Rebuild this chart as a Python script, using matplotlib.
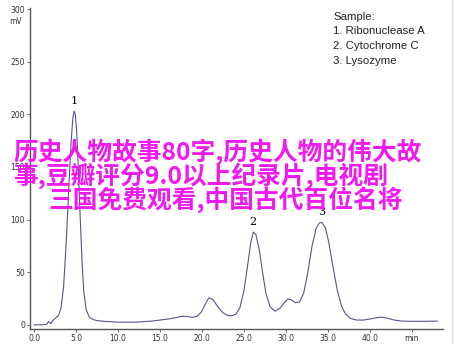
import matplotlib

matplotlib.use("Agg")
import matplotlib.pyplot as plt

# chromatogram trace (minutes, mV)
time_min = [
    0.0, 1.0, 1.5, 1.7, 1.9, 2.0, 2.2, 2.5, 2.9, 3.2, 3.5, 3.8, 4.1, 4.4,
    4.6, 4.75, 4.9, 5.05, 5.2, 5.35, 5.5, 5.7, 5.9, 6.2, 6.6, 7.0, 7.5,
    8.0, 9.0, 10.0, 11.0, 12.0, 13.0, 14.0, 15.0, 16.0, 17.0, 17.5, 18.2,
    18.8, 19.4, 19.9, 20.4, 20.8, 21.3, 21.8, 22.4, 23.0, 23.5, 24.0,
    24.5, 25.0, 25.4, 25.8, 26.1, 26.4, 26.8, 27.2, 27.6, 28.1, 28.7,
    29.3, 29.8, 30.2, 30.6, 31.1, 31.6, 32.1, 32.6, 33.1, 33.6, 34.0,
    34.3, 34.7, 35.1, 35.6, 36.1, 36.6, 37.1, 37.7, 38.4, 39.2, 40.0,
    40.8, 41.4, 42.1, 42.9, 43.8, 45.0, 46.5, 48.0,
]
signal_mv = [
    0.0, 0.0, 0.5, 3.0, 2.0, 1.0, 4.0, 6.0, 9.0, 16.0, 36.0, 76.0, 126.0,
    174.0, 196.0, 203.0, 200.0, 185.0, 160.0, 128.0, 98.0, 60.0, 32.0,
    14.0, 7.0, 5.0, 4.0, 3.5, 3.0, 2.5, 2.5, 2.5, 3.0, 3.5, 4.5, 5.5, 7.0,
    8.0, 8.0, 7.0, 8.0, 12.0, 20.0, 25.5, 24.0, 18.0, 12.0, 9.0, 8.5,
    10.0, 16.0, 33.0, 55.0, 78.0, 88.0, 86.0, 72.0, 50.0, 30.0, 17.0,
    13.0, 16.0, 21.0, 24.5, 24.0, 21.0, 21.5, 30.0, 50.0, 75.0, 92.0,
    97.0, 97.0, 92.0, 78.0, 55.0, 33.0, 18.0, 10.0, 6.0, 4.5, 4.5, 5.5,
    6.8, 7.2, 6.2, 4.5, 3.5, 3.3, 3.3, 3.5,
]

peak_labels = ["1", "2", "3"]
peak_times = [4.8, 26.1, 34.2]
peak_heights = [203.0, 88.0, 97.0]

x_ticks = [0, 5, 10, 15, 20, 25, 30, 35, 40, 45]
x_tick_labels = ["0.0", "5.0", "10.0", "15.0", "20.0", "25.0", "30.0", "35.0", "40.0", "min"]
y_ticks = [0, 50, 100, 150, 200, 250, 300]

sample_lines = ["Sample:", "1. Ribonuclease A", "2. Cytochrome C", "3. Lysozyme"]
overlay_lines = [
    "历史人物故事80字,历史人物的伟大故",
    "事,豆瓣评分9.0以上纪录片,电视剧",
    "三国免费观看,中国古代百位名将",
]

W, H = 456, 344
fig = plt.figure(figsize=(W / 100, H / 100), dpi=100)
fig.patch.set_facecolor("white")

# axes box in pixel terms: left 30, right 443, top 8, bottom 329
ax = fig.add_axes([30 / W, 1 - 329 / H, (443 - 30) / W, (329 - 8) / H])
ax.plot(time_min, signal_mv, color="#55558a", lw=0.8)
ax.set_xlim(-0.5, 48.7)
ax.set_ylim(-4, 301)

for side in ["top", "right"]:
    ax.spines[side].set_visible(False)
for side in ["left", "bottom"]:
    ax.spines[side].set_color("#555555")
    ax.spines[side].set_linewidth(1.0)

ax.set_xticks(x_ticks)
ax.set_xticklabels(x_tick_labels)
ax.set_yticks(y_ticks)
ax.tick_params(axis="both", labelsize=5.5, length=2, width=0.6, color="#555555",
               labelcolor="#333333", pad=1.5)
ax.text(-1.5, 288, "mV", fontsize=5.5, color="#333333", ha="right", va="center")

for lab, t, h in zip(peak_labels, peak_times, peak_heights):
    ax.annotate(lab, (t, h), xytext=(0, 4), textcoords="offset points",
                ha="center", va="bottom", fontsize=8, family="DejaVu Serif")

for i, line in enumerate(sample_lines):
    fig.text(333 / W, 1 - (17 + i * 14.5) / H, line, fontsize=8.2,
             family="Liberation Sans", color="#222222", va="center")

overlay_pos = [(13, 152), (13, 176), (48, 200)]
for line, (px, py) in zip(overlay_lines, overlay_pos):
    fig.text(px / W, 1 - py / H, line, fontsize=17.8, fontweight="bold",
             family=["Noto Sans CJK SC", "DejaVu Sans"], color="#f019f0",
             va="center", ha="left")

# faint frame line on the right edge of the original screenshot
fig.add_artist(plt.Line2D([452 / W, 452 / W], [0, 1], color="#dddddd", lw=1))

fig.savefig("out.png", dpi=100)
